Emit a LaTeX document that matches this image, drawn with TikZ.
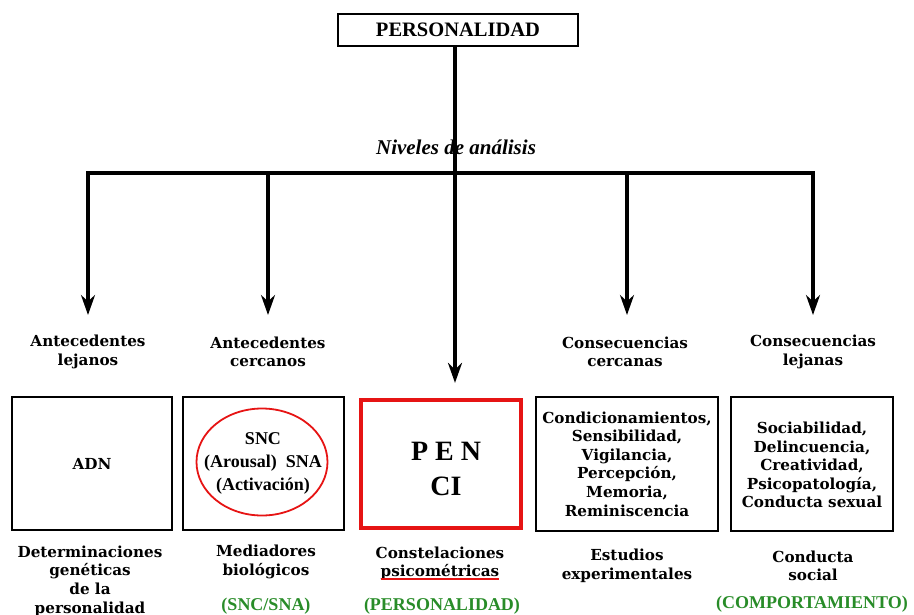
\documentclass[tikz,border=0pt]{standalone}
\usepackage{fontspec}
\setmainfont{Liberation Serif}
\newfontfamily\lblfont{DejaVu Serif}
\usetikzlibrary{arrows.meta,shapes.geometric}
\definecolor{grn}{RGB}{40,140,40}
\definecolor{rd}{RGB}{230,20,20}
\begin{document}
\begin{tikzpicture}[x=1pt,y=-1pt,
  lbl/.style={font=\lblfont\bfseries\fontsize{15.2}{18.6}\selectfont, align=center, inner sep=0pt},
  gtxt/.style={font=\bfseries\fontsize{18}{20}\selectfont, text=grn, inner sep=0pt},
  box/.style={draw=black, line width=1.8pt},
  arr/.style={line width=3.2pt, -{Stealth[length=20pt,width=14pt]}},
  bar/.style={line width=3.2pt}
]
\useasboundingbox (0,0) rectangle (914,614);
\clip (0,0) rectangle (914,614);

% title
\node[box, minimum width=240pt, minimum height=32pt, inner sep=0pt,
      font=\bfseries\fontsize{20.5}{22}\selectfont] (title) at (458,30) {PERSONALIDAD};

% level label
\node[font=\bfseries\itshape\fontsize{21}{22}\selectfont, inner sep=0pt] (niv) at (456,147) {Niveles de análisis};

% boxes
\node[box, minimum width=160pt, minimum height=133pt, inner sep=0pt] (b1) at (92,463.5) {};
\node[box, minimum width=161pt, minimum height=133pt, inner sep=0pt] (b2) at (263.5,463.5) {};
\node[draw=rd, line width=4.2pt, minimum width=160pt, minimum height=128pt, inner sep=0pt] (b3) at (441,464) {};
\node[box, minimum width=182pt, minimum height=134pt, inner sep=0pt] (b4) at (627,464) {};
\node[box, minimum width=162pt, minimum height=134pt, inner sep=0pt] (b5) at (812,464) {};

% horizontal bar and arrows
\coordinate (h1) at (88,173);
\coordinate (h2) at (268,173);
\coordinate (h4) at (627,173);
\coordinate (h5) at (813,173);
\coordinate (t1) at (88,315);
\coordinate (t2) at (268,315);
\coordinate (t4) at (627,315);
\coordinate (t5) at (813,315);
\draw[bar] ([xshift=-1.6pt]h1) -- ([xshift=1.6pt]h5);
\draw[arr] ([yshift=-1.6pt]h1) -- (t1);
\draw[arr] ([yshift=-1.6pt]h2) -- (t2);
\draw[arr] ([yshift=-1.6pt]h4) -- (t4);
\draw[arr] ([yshift=-1.6pt]h5) -- (t5);
\draw[arr, shorten >=15pt] ([xshift=-3pt]title.south) -- ([xshift=14pt]b3.north);

% level labels
\node[lbl] (al) at (88,352) {Antecedentes\\lejanos};
\node[lbl] (ac) at (268,352) {Antecedentes\\cercanos};
\node[lbl] (cc) at (625,352) {Consecuencias\\cercanas};
\node[lbl] (cl) at (813,352) {Consecuencias\\lejanas};

% box contents
\node[lbl] (adn) at (b1.center) {ADN};
\node[draw=rd, line width=1.8pt, ellipse, minimum width=131pt, minimum height=107pt, inner sep=0pt] (ell) at (262,462) {};
\node[font=\bfseries\fontsize{18}{23}\selectfont, align=center, inner sep=0pt] (snc) at (263,463) {SNC\\(Arousal)\ \ SNA\\(Activación)};
\node[font=\bfseries\fontsize{28}{35}\selectfont, align=center, inner sep=0pt] (pen) at (446,469) {P E N\\CI};
\node[lbl] (cond) at (b4.center) {Condicionamientos,\\Sensibilidad,\\Vigilancia,\\Percepción,\\Memoria,\\Reminiscencia};
\node[lbl] (soc) at (812,465) {Sociabilidad,\\Delincuencia,\\Creatividad,\\Psicopatología,\\Conducta sexual};

% bottom labels
\node[lbl] (det) at (90,581) {Determinaciones\\genéticas\\de la\\personalidad};
\node[lbl] (med) at (266,562) {Mediadores\\biológicos};
\node[lbl] (con) at (440,553) {Constelaciones};
\node[lbl] (psi) at (440,572) {psicométricas};
\draw[rd, line width=1.8pt] ([yshift=1pt]psi.south west) -- ([yshift=1pt]psi.south east);
\node[lbl] (est) at (627,566) {Estudios\\experimentales};
\node[lbl] (cs) at (813,566) {Conducta\\social};
\node[gtxt] (g1) at (266,606) {(SNC/SNA)};
\node[gtxt] (g2) at (442,606) {(PERSONALIDAD)};
\node[gtxt] (g3) at (812,604) {(COMPORTAMIENTO)};
\end{tikzpicture}
\end{document}
